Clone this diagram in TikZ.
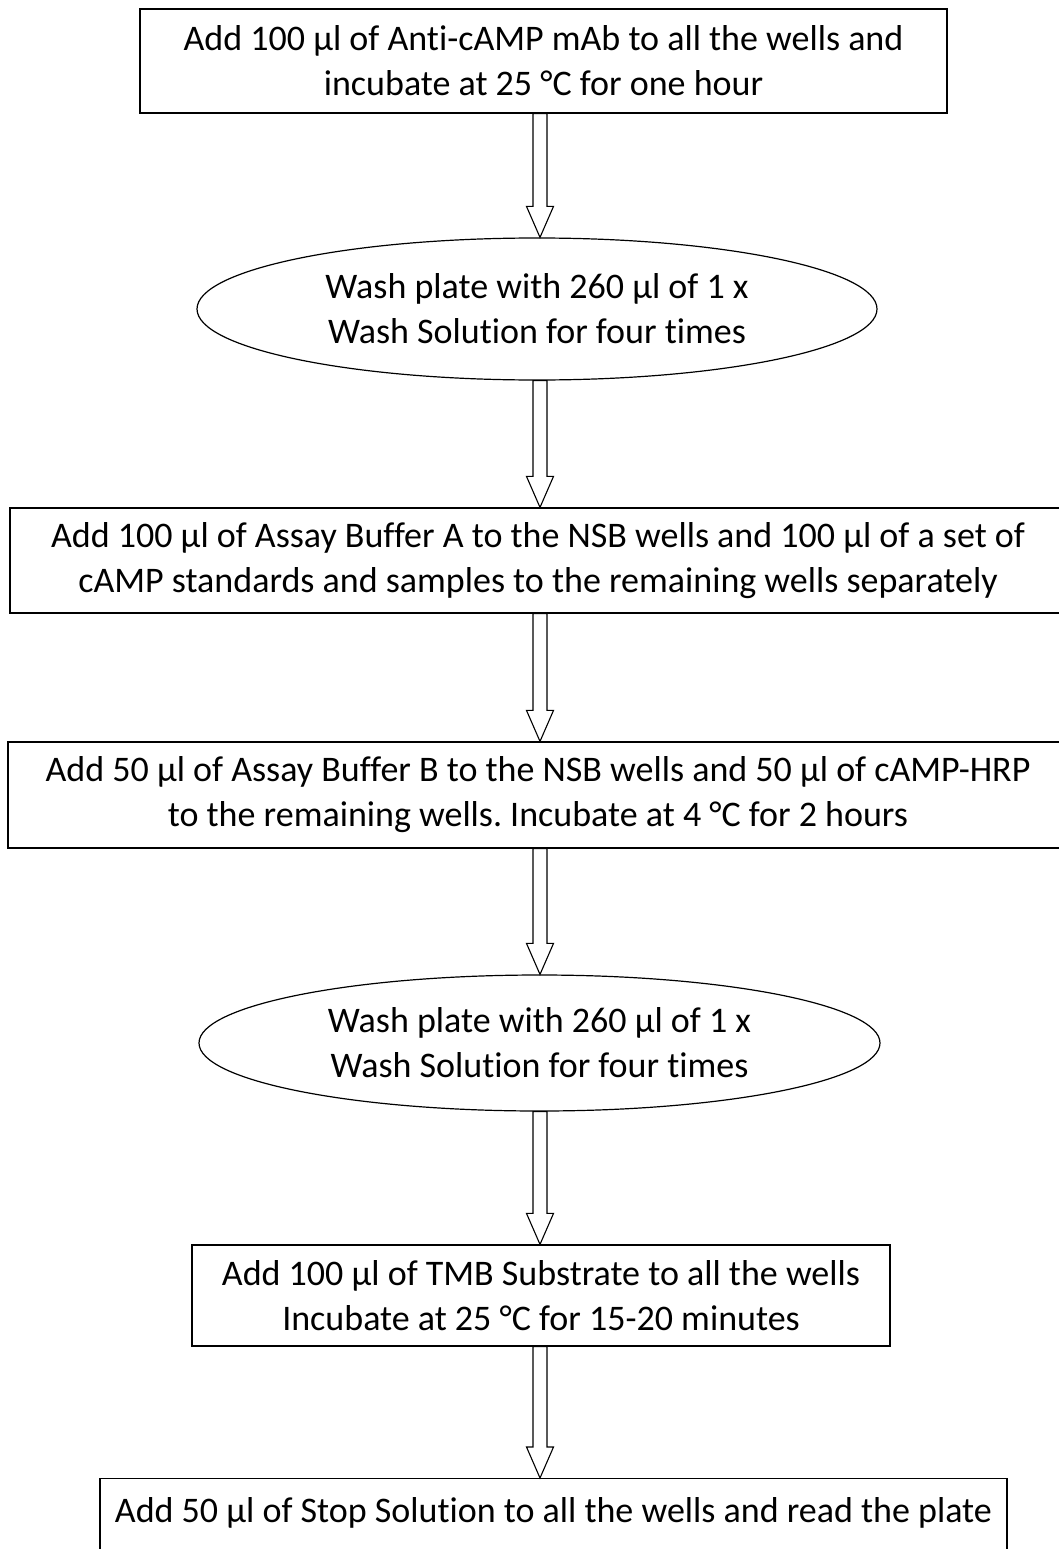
\documentclass[tikz,border=0pt]{standalone}
\usepackage{fontspec}
\setmainfont{Carlito}[Ligatures=CommonOff]
\usetikzlibrary{calc,positioning,shapes.geometric}
\frenchspacing

\tikzset{
	stepbox/.style={draw=black,line width=1.2pt,rectangle,align=center,inner sep=0pt},
	washbox/.style={draw=black,line width=1.2pt,ellipse,align=center,inner sep=0pt},
	blockarrow/.style={draw=black,fill=white,line width=1.1pt,line join=miter}
}

% hollow block arrow from #1 down to #2 along the axis
\newcommand{\flowarrow}[2]{%
	\draw[blockarrow] ($(#1.south -| axis)+(-7,0)$)
	-- ($(#2.north -| axis)+(-7,31)$) -- ($(#2.north -| axis)+(-13.5,31)$)
	-- (#2.north -| axis)
	-- ($(#2.north -| axis)+(13.5,31)$) -- ($(#2.north -| axis)+(7,31)$)
	-- ($(#1.south -| axis)+(7,0)$) -- cycle;}

\begin{document}
\begin{tikzpicture}[x=1pt,y=1pt,font=\fontsize{36}{45}\selectfont]
	
	\useasboundingbox (0,0) rectangle (1059,-1549);
	\coordinate (axis) at (540,0);
	
	% --- steps
	\node[stepbox,minimum width=807,minimum height=104] (mab) at (543.5,-61)
	{Add 100 µl of Anti-cAMP mAb to all the wells and\\incubate at 25 °C for one hour};
	
	\node[washbox,minimum width=680,minimum height=142] (washa) at (537,-309)
	{Wash plate with 260 µl of 1 x\\Wash Solution for four times};
	
	\node[stepbox,minimum width=1056,minimum height=105] (std) at (538,-560.5)
	{Add 100 µl of Assay Buffer A to the NSB wells and 100 µl of a set of\\cAMP standards and samples to the remaining wells separately};
	
	\node[stepbox,minimum width=1060,minimum height=106] (hrp) at (538,-795)
	{Add 50 µl of Assay Buffer B to the NSB wells and 50 µl of cAMP-HRP\\to the remaining wells. Incubate at 4 °C for 2 hours};
	
	\node[washbox,minimum width=681,minimum height=136] (washb) at (539.5,-1043)
	{Wash plate with 260 µl of 1 x\\Wash Solution for four times};
	
	\node[stepbox,minimum width=698,minimum height=101] (tmb) at (541,-1295.5)
	{Add 100 µl of TMB Substrate to all the wells\\Incubate at 25 °C for 15-20 minutes};
	
	\node[stepbox,anchor=north,minimum width=907,inner ysep=18pt,text height=26pt,text depth=70pt] (stop) at (553.5,-1478)
	{Add 50 µl of Stop Solution to all the wells and read the plate};
	
	% --- arrows
	\flowarrow{mab}{washa}
	\flowarrow{washa}{std}
	\flowarrow{std}{hrp}
	\flowarrow{hrp}{washb}
	\flowarrow{washb}{tmb}
	\flowarrow{tmb}{stop}
	
\end{tikzpicture}
\end{document}
